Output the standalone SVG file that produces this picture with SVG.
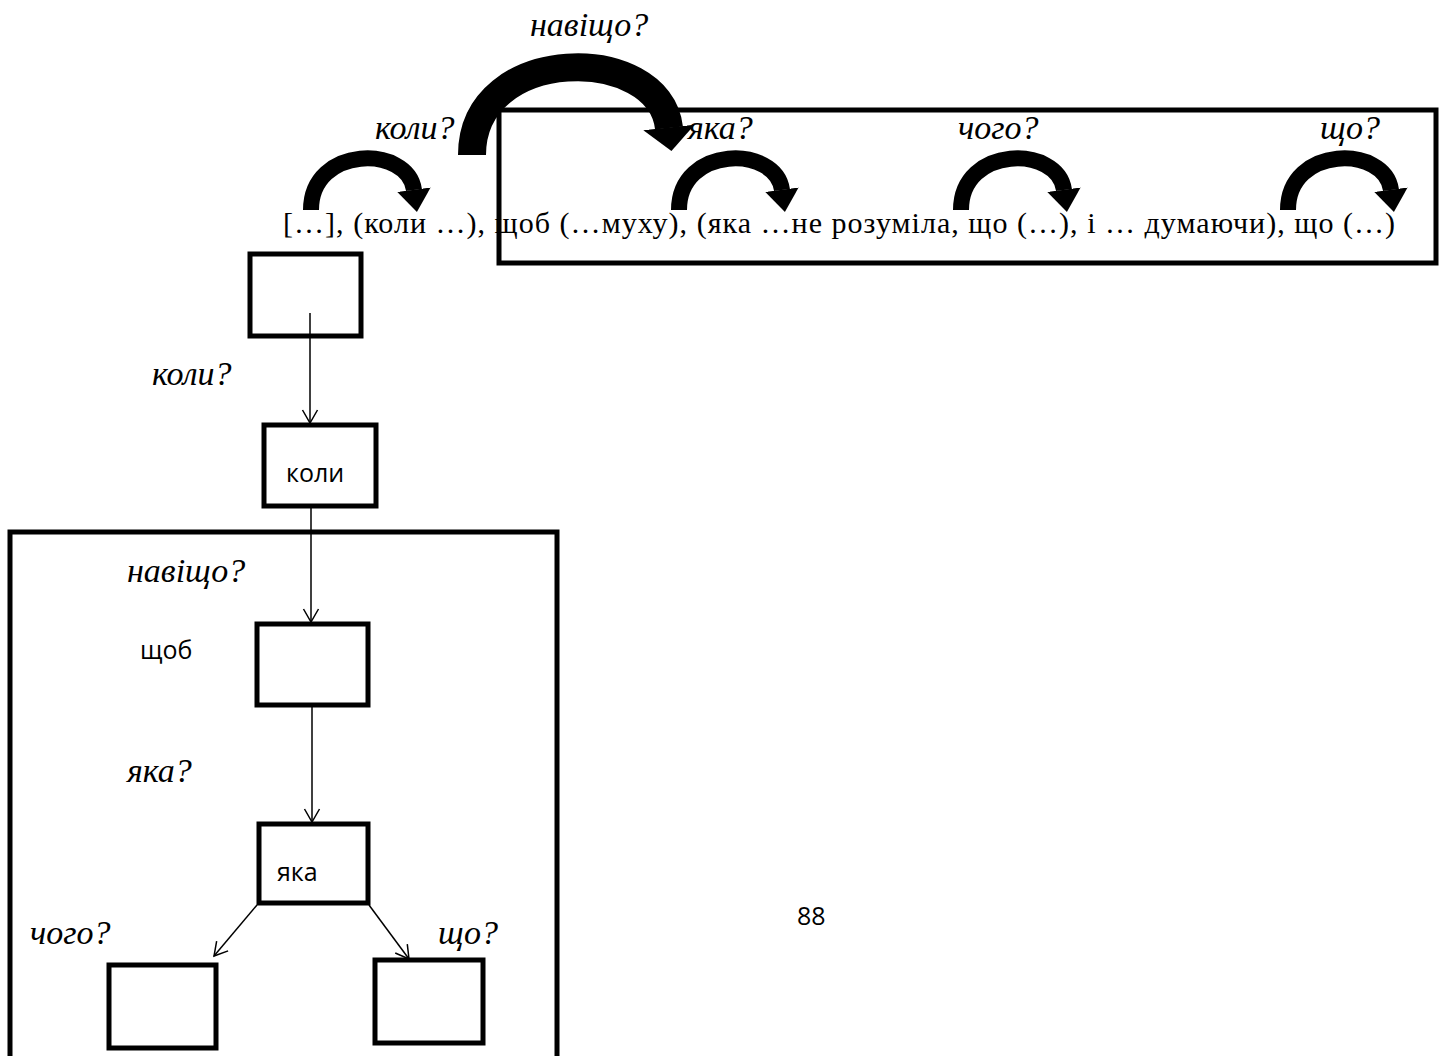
<svg xmlns="http://www.w3.org/2000/svg" width="1449" height="1056" viewBox="0 0 1449 1056">
<style>
.bg{fill:#fff}
.box{fill:#fff;stroke:#000;stroke-width:5}
.frame{fill:none;stroke:#000;stroke-width:5}
.q{font-family:"Liberation Serif","Times New Roman",serif;font-style:italic;font-size:34px;fill:#000}
.sent{font-family:"Liberation Serif","Times New Roman",serif;font-size:30px;fill:#000}
.lbl{font-family:"Open Sans","Noto Sans",sans-serif;font-size:25px;fill:#000}
.thin{fill:none;stroke:#000;stroke-width:1.5}
.arcS{fill:none;stroke:#000;stroke-width:16}
.arcB{fill:none;stroke:#000;stroke-width:28}
</style>
<defs>
<marker id="headS" viewBox="0 -1.05 1.4 2.1" refX="0.02" refY="0" markerWidth="1.4" markerHeight="2.1" markerUnits="strokeWidth" orient="auto">
<path d="M0,-1.05 L1.4,0 L0,1.05 z" fill="#000"/>
</marker>
<marker id="headB" viewBox="0 -0.92 0.85 1.84" refX="0.02" refY="0" markerWidth="0.85" markerHeight="1.84" markerUnits="strokeWidth" orient="auto">
<path d="M0,-0.92 L0.85,0 L0,0.92 z" fill="#000"/>
</marker>
<marker id="vee" viewBox="-14 -9 16 18" refX="0" refY="0" markerWidth="16" markerHeight="18" markerUnits="userSpaceOnUse" orient="auto">
<path d="M-13,-7.5 L0,0 L-13,7.5" fill="none" stroke="#000" stroke-width="1.5"/>
</marker>
</defs>
<rect class="bg" x="0" y="0" width="1449" height="1056"/>

<g id="sentence-frame">
<rect class="frame" x="499" y="110" width="937" height="153"/>
</g>

<g id="sentence">
<text class="sent" x="283" y="233" textLength="1112" lengthAdjust="spacing">[…], (коли …), щоб (…муху), (яка …не розуміла, що (…), і … думаючи), що (…)</text>
</g>

<g id="top-labels">
<text class="q" x="530" y="36">навіщо?</text>
<text class="q" x="375" y="139">коли?</text>
<text class="q" x="688" y="139">яка?</text>
<text class="q" x="958" y="139">чого?</text>
<text class="q" x="1320" y="139">що?</text>
</g>

<g id="arc-connectors">
<path class="arcS" d="M311,210 C311,145 408,145 414,190" marker-end="url(#headS)"/>
<path class="arcB" d="M472,155 C472,43 660,43 669,128" marker-end="url(#headB)"/>
<path class="arcS" d="M679,210 C679,145 776,145 782,190" marker-end="url(#headS)"/>
<path class="arcS" d="M961,210 C961,145 1058,145 1064,190" marker-end="url(#headS)"/>
<path class="arcS" d="M1288,210 C1288,145 1385,145 1391,190" marker-end="url(#headS)"/>
</g>

<g id="tree-frame">
<rect class="frame" x="10" y="532" width="547" height="540"/>
</g>

<g id="node-main">
<rect class="box" x="250" y="254" width="111" height="82"/>
</g>
<g id="node-koly">
<rect class="box" x="264" y="425" width="112" height="81"/>
<text class="lbl" x="286" y="482">коли</text>
</g>
<g id="node-shchob">
<rect class="box" x="257" y="624" width="111" height="81"/>
<text class="lbl" x="140" y="659">щоб</text>
</g>
<g id="node-yaka">
<rect class="box" x="259" y="824" width="109" height="79"/>
<text class="lbl" x="277" y="881">яка</text>
</g>
<g id="node-choho">
<rect class="box" x="109" y="965" width="107" height="83"/>
</g>
<g id="node-shcho">
<rect class="box" x="375" y="960" width="108" height="83"/>
</g>

<g id="tree-labels">
<text class="q" x="152" y="385">коли?</text>
<text class="q" x="127" y="582">навіщо?</text>
<text class="q" x="127" y="782">яка?</text>
<text class="q" x="30" y="944">чого?</text>
<text class="q" x="438" y="944">що?</text>
</g>

<g id="connectors">
<line class="thin" x1="310" y1="313" x2="310" y2="423" marker-end="url(#vee)"/>
<line class="thin" x1="311" y1="508" x2="311" y2="622" marker-end="url(#vee)"/>
<line class="thin" x1="312" y1="707" x2="312" y2="822" marker-end="url(#vee)"/>
<line class="thin" x1="257" y1="905" x2="214" y2="956" marker-end="url(#vee)"/>
<line class="thin" x1="369" y1="905" x2="409" y2="959" marker-end="url(#vee)"/>
</g>

<g id="page-number">
<text class="lbl" x="797" y="925" font-size="26">88</text>
</g>
</svg>
